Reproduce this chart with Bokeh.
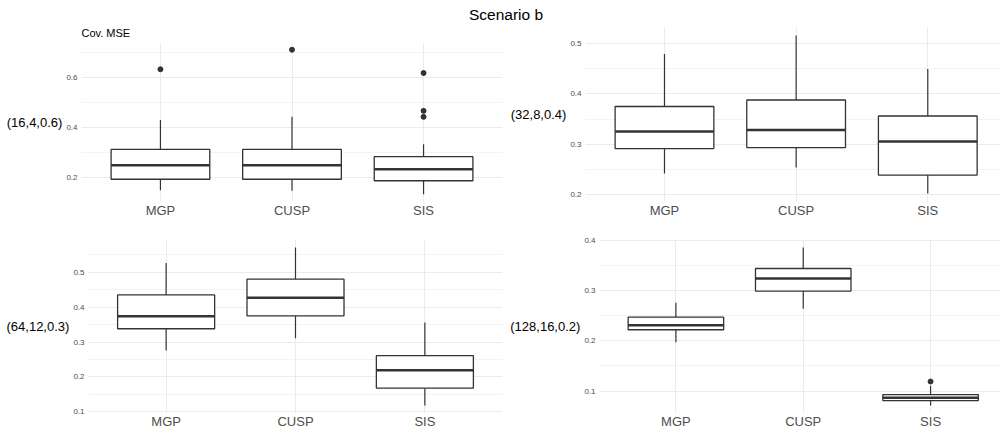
from bokeh.plotting import figure
from bokeh.models import Range1d, FixedTicker, Div
from bokeh.layouts import column, row
from bokeh.embed import file_html
from bokeh.resources import INLINE

categories = ["MGP", "CUSP", "SIS"]
main_title = "Scenario b"
y_title = "Cov. MSE"

# panel (16,4,0.6)
a_label = "(16,4,0.6)"
a_lower = [0.149, 0.147, 0.133]
a_q1 = [0.193, 0.193, 0.187]
a_med = [0.249, 0.249, 0.233]
a_q3 = [0.312, 0.312, 0.283]
a_upper = [0.429, 0.442, 0.333]
a_out_cat = ["MGP", "CUSP", "SIS", "SIS", "SIS"]
a_out_val = [0.632, 0.710, 0.617, 0.466, 0.442]
a_major = [0.2, 0.4, 0.6]
a_minor = [0.1, 0.3, 0.5, 0.7]

# panel (32,8,0.4)
b_label = "(32,8,0.4)"
b_lower = [0.241, 0.253, 0.201]
b_q1 = [0.291, 0.293, 0.238]
b_med = [0.325, 0.328, 0.305]
b_q3 = [0.375, 0.388, 0.356]
b_upper = [0.480, 0.517, 0.450]
b_out_cat = []
b_out_val = []
b_major = [0.2, 0.3, 0.4, 0.5]
b_minor = [0.15, 0.25, 0.35, 0.45, 0.55]

# panel (64,12,0.3)
c_label = "(64,12,0.3)"
c_lower = [0.276, 0.311, 0.118]
c_q1 = [0.338, 0.375, 0.168]
c_med = [0.374, 0.427, 0.219]
c_q3 = [0.435, 0.480, 0.261]
c_upper = [0.526, 0.571, 0.356]
c_out_cat = []
c_out_val = []
c_major = [0.1, 0.2, 0.3, 0.4, 0.5]
c_minor = [0.05, 0.15, 0.25, 0.35, 0.45, 0.55]

# panel (128,16,0.2)
d_label = "(128,16,0.2)"
d_lower = [0.197, 0.264, 0.071]
d_q1 = [0.222, 0.299, 0.081]
d_med = [0.231, 0.324, 0.0867]
d_q3 = [0.247, 0.344, 0.093]
d_upper = [0.276, 0.386, 0.1105]
d_out_cat = ["SIS"]
d_out_val = [0.119]
d_major = [0.1, 0.2, 0.3, 0.4]
d_minor = [0.05, 0.15, 0.25, 0.35]

FONT = "Liberation Sans"
LINE = "#333333"
GRID = "#EBEBEB"
BOX_W = 0.75


def panel(lower, q1, med, q3, upper, out_cat, out_val, major, minor, row_label,
          width, height, bl, br, bt, bb, x_end, xstand, title=None):
    lo = min(lower + out_val)
    hi = max(upper + out_val)
    pad = 0.05 * (hi - lo)
    p = figure(width=width, height=height, x_range=Range1d(0.4, x_end),
               y_range=Range1d(lo - pad, hi + pad), output_backend="svg",
               toolbar_location=None, title=title, frame_align=False,
               min_border_left=bl, min_border_right=br,
               min_border_top=bt, min_border_bottom=bb)
    p.outline_line_color = None
    p.background_fill_color = "white"
    p.border_fill_color = "white"
    if title is not None:
        p.title.text_font = FONT
        p.title.text_font_size = "11px"
        p.title.text_font_style = "normal"
        p.title.text_color = "black"
        p.title.align = "left"
        p.title.standoff = 8
    else:
        p.title_location = None

    xs = [categories.index(c) + 1 for c in categories]
    xt = FixedTicker(ticks=xs)
    p.xaxis.ticker = xt
    p.xgrid.ticker = xt
    p.xaxis.major_label_overrides = {x: c for x, c in zip(xs, categories)}
    yt = FixedTicker(ticks=major, minor_ticks=minor)
    p.yaxis.ticker = yt
    p.ygrid.ticker = yt

    for ax in (p.xaxis, p.yaxis):
        ax.axis_line_color = None
        ax.major_tick_line_color = None
        ax.minor_tick_line_color = None
        ax.major_tick_out = 0
        ax.major_tick_in = 0
        ax.minor_tick_out = 0
        ax.minor_tick_in = 0
        ax.major_label_text_font = FONT
        ax.major_label_text_color = "#4D4D4D"
    p.xaxis.major_label_text_font_size = "13px"
    p.xaxis.major_label_text_line_height = 1.0
    p.xaxis.major_label_standoff = xstand
    p.yaxis.major_label_text_font_size = "8px"
    p.yaxis.major_label_standoff = 4

    p.yaxis.axis_label = row_label
    p.yaxis.axis_label_orientation = "horizontal"
    p.yaxis.axis_label_standoff = 1
    p.yaxis.axis_label_text_font = FONT
    p.yaxis.axis_label_text_font_size = "13px"
    p.yaxis.axis_label_text_font_style = "normal"
    p.yaxis.axis_label_text_color = "black"

    p.xgrid.grid_line_color = GRID
    p.xgrid.grid_line_width = 1
    p.ygrid.grid_line_color = GRID
    p.ygrid.grid_line_width = 1
    p.ygrid.minor_grid_line_color = GRID
    p.ygrid.minor_grid_line_width = 0.6

    p.segment(x0=xs, y0=q3, x1=xs, y1=upper, line_color=LINE, line_width=1.2)
    p.segment(x0=xs, y0=lower, x1=xs, y1=q1, line_color=LINE, line_width=1.2)
    p.vbar(x=xs, width=BOX_W, bottom=q1, top=q3, fill_color="white",
           line_color=LINE, line_width=1.3)
    p.segment(x0=[x - BOX_W / 2 for x in xs], y0=med,
              x1=[x + BOX_W / 2 for x in xs], y1=med,
              line_color=LINE, line_width=2.4)
    if out_val:
        p.scatter(x=[categories.index(c) + 1 for c in out_cat], y=out_val,
                  size=5, fill_color=LINE, line_color=LINE)
    return p


p1 = panel(a_lower, a_q1, a_med, a_q3, a_upper, a_out_cat, a_out_val, a_major, a_minor,
           a_label, 505, 200, 81, 3, 22, 19, 3.6, 1, title=y_title)
p2 = panel(b_lower, b_q1, b_med, b_q3, b_upper, b_out_cat, b_out_val, b_major, b_minor,
           b_label, 496, 200, 80, 0, 7, 19, 3.56, 1)
p3 = panel(c_lower, c_q1, c_med, c_q3, c_upper, c_out_cat, c_out_val, c_major, c_minor,
           c_label, 505, 211, 88, 3, 19, 17, 3.6, 0)
p4 = panel(d_lower, d_q1, d_med, d_q3, d_upper, d_out_cat, d_out_val, d_major, d_minor,
           d_label, 496, 211, 94, 0, 19, 17, 3.557, 0)

head = Div(text='<div style="position:relative; top:4px; line-height:20px;">'
                + main_title + '</div>',
           width=990, height=20, margin=(0, 0, 0, 11),
           styles={"font-size": "15.5px", "text-align": "center",
                   "font-family": "Liberation Sans, Arial, sans-serif",
                   "color": "black"})

layout = column(head, row(p1, p2), row(p3, p4))

open("out.html", "w").write(file_html(layout, INLINE))
